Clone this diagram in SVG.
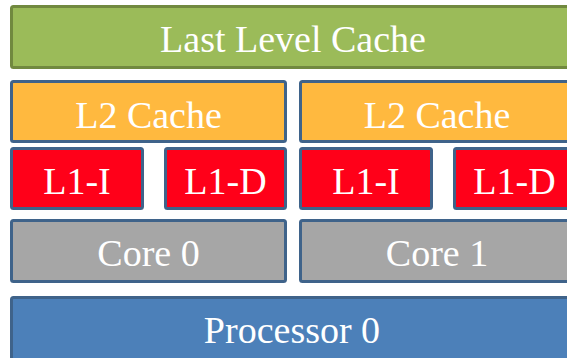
<svg xmlns="http://www.w3.org/2000/svg" width="567" height="358" viewBox="0 0 567 358">
  <style>
    .box { stroke-width: 3; }
    .llc { fill: #9bbb59; stroke: #71893f; }
    .l2 { fill: #ffb93f; stroke: #3f638a; }
    .l1 { fill: #ff0019; stroke: #3f638a; }
    .core { fill: #a6a6a6; stroke: #3f638a; }
    .proc { fill: #4c80b9; stroke: #3f638a; }
    .lbl { font-size: 38px; fill: #ffffff; text-anchor: middle; }
  </style>
  <rect width="567" height="358" fill="#ffffff"/>

  <g font-family="Liberation Serif, DejaVu Serif, serif">
  <!-- shared last level cache -->
  <g id="llc">
    <rect class="box llc" x="11.5" y="6.5" width="565" height="61" rx="2"/>
    <text class="lbl" x="293" y="52">Last Level Cache</text>
  </g>

  <!-- core 0 private caches -->
  <g id="l2-0">
    <rect class="box l2" x="11.5" y="81.5" width="274" height="60" rx="2"/>
    <text class="lbl" x="148.5" y="128">L2 Cache</text>
  </g>
  <g id="l1i-0">
    <rect class="box l1" x="11.5" y="148.5" width="131" height="60" rx="2"/>
    <text class="lbl" x="77" y="194">L1-I</text>
  </g>
  <g id="l1d-0">
    <rect class="box l1" x="165.5" y="148.5" width="120" height="60" rx="2"/>
    <text class="lbl" x="225.5" y="194">L1-D</text>
  </g>
  <g id="core-0">
    <rect class="box core" x="11.5" y="220.5" width="274" height="61" rx="2"/>
    <text class="lbl" x="148.5" y="266">Core 0</text>
  </g>

  <!-- core 1 private caches -->
  <g id="l2-1">
    <rect class="box l2" x="300.5" y="81.5" width="274" height="60" rx="2"/>
    <text class="lbl" x="437" y="128">L2 Cache</text>
  </g>
  <g id="l1i-1">
    <rect class="box l1" x="300.5" y="148.5" width="131" height="60" rx="2"/>
    <text class="lbl" x="366" y="194">L1-I</text>
  </g>
  <g id="l1d-1">
    <rect class="box l1" x="454.5" y="148.5" width="120" height="60" rx="2"/>
    <text class="lbl" x="514.5" y="194">L1-D</text>
  </g>
  <g id="core-1">
    <rect class="box core" x="300.5" y="220.5" width="274" height="61" rx="2"/>
    <text class="lbl" x="437" y="266">Core 1</text>
  </g>

  <!-- processor package -->
  <g id="processor-0">
    <rect class="box proc" x="11.5" y="297.5" width="565" height="62" rx="2"/>
    <text class="lbl" x="292" y="343">Processor 0</text>
  </g>
  </g>
</svg>
